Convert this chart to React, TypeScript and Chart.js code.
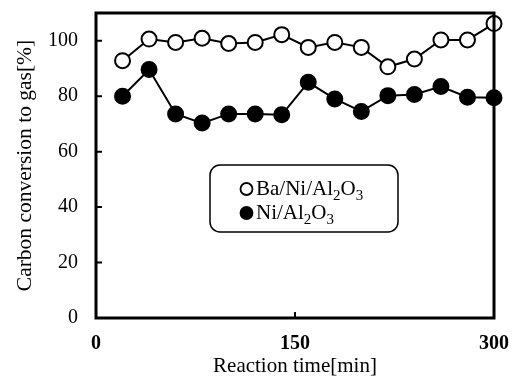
import React, { useEffect, useRef } from "react";
import { Chart, registerables } from "chart.js";

Chart.register(...registerables);

const times = [20, 40, 60, 80, 100, 120, 140, 160, 180, 200, 220, 240, 260, 280, 300];
const baNiValues = [92.8, 100.6, 99.4, 100.9, 99.0, 99.4, 102.2, 97.6, 99.4, 97.6, 90.6, 93.4, 100.3, 100.3, 106.2];
const niValues = [80.0, 89.6, 73.6, 70.3, 73.6, 73.6, 73.3, 85.0, 79.0, 74.5, 80.2, 80.6, 83.5, 79.6, 79.4];
const yTicks = [0, 20, 40, 60, 80, 100];
const xTicks = [0, 150, 300];
const seriesNames = ["Ba/Ni/Al2O3", "Ni/Al2O3"];

const SERIF = "'Liberation Serif', 'Times New Roman', serif";

function drawChem(ctx: CanvasRenderingContext2D, text: string, x: number, y: number, size: number) {
  let cx = x;
  for (const ch of text) {
    if (/[0-9]/.test(ch)) {
      ctx.font = `${Math.round(size * 0.72)}px ${SERIF}`;
      ctx.fillText(ch, cx, y + size * 0.32);
      cx += ctx.measureText(ch).width;
    } else {
      ctx.font = `${size}px ${SERIF}`;
      ctx.fillText(ch, cx, y);
      cx += ctx.measureText(ch).width;
    }
  }
}

const framePlugin = {
  id: "frame",
  afterDraw(chart: any) {
    const { ctx, chartArea } = chart;
    const { left, right, top, bottom } = chartArea;
    const xs = chart.scales.x;
    const ys = chart.scales.y;
    ctx.save();
    ctx.strokeStyle = "#000";
    ctx.lineWidth = 3;
    ctx.strokeRect(left, top, right - left, bottom - top);
    ctx.lineWidth = 2;
    ctx.beginPath();
    for (const v of yTicks) {
      const py = ys.getPixelForValue(v);
      ctx.moveTo(left, py);
      ctx.lineTo(left + 6, py);
    }
    for (const v of xTicks) {
      const px = xs.getPixelForValue(v);
      ctx.moveTo(px, bottom);
      ctx.lineTo(px, bottom - 6);
    }
    ctx.stroke();

    // legend box
    const bx = 210, by = 165, bw = 188, bh = 67, r = 10;
    ctx.lineWidth = 1.5;
    ctx.fillStyle = "#fff";
    ctx.beginPath();
    ctx.roundRect(bx, by, bw, bh, r);
    ctx.fill();
    ctx.stroke();

    ctx.lineWidth = 1.8;
    ctx.beginPath();
    ctx.arc(246.5, 189, 6, 0, Math.PI * 2);
    ctx.fillStyle = "#fff";
    ctx.fill();
    ctx.stroke();
    ctx.beginPath();
    ctx.arc(246.5, 213, 6, 0, Math.PI * 2);
    ctx.fillStyle = "#000";
    ctx.fill();
    ctx.stroke();

    ctx.fillStyle = "#000";
    ctx.textBaseline = "middle";
    ctx.textAlign = "left";
    drawChem(ctx, seriesNames[0], 256, 189, 21);
    drawChem(ctx, seriesNames[1], 256, 213, 21);
    ctx.restore();
  },
};

export default function App() {
  const ref = useRef<HTMLCanvasElement>(null);
  useEffect(() => {
    document.body.style.margin = "0";
    const canvas = ref.current!;
    const chart = new Chart(canvas, {
      type: "line",
      data: {
        datasets: [
          {
            label: seriesNames[0],
            data: times.map((t, i) => ({ x: t, y: baNiValues[i] })),
            borderColor: "#000",
            borderWidth: 2,
            backgroundColor: "#fff",
            pointBackgroundColor: "#fff",
            pointBorderColor: "#000",
            pointBorderWidth: 2,
            pointRadius: 7.5,
            tension: 0,
          },
          {
            label: seriesNames[1],
            data: times.map((t, i) => ({ x: t, y: niValues[i] })),
            borderColor: "#000",
            borderWidth: 2,
            backgroundColor: "#000",
            pointBackgroundColor: "#000",
            pointBorderColor: "#000",
            pointBorderWidth: 2,
            pointRadius: 7.5,
            tension: 0,
          },
        ],
      },
      options: {
        animation: false,
        responsive: false,
        maintainAspectRatio: false,
        clip: false as any,
        layout: { padding: { left: 0, top: 13, right: 18, bottom: 0 } },
        plugins: { legend: { display: false }, tooltip: { enabled: false } },
        scales: {
          x: {
            type: "linear",
            min: 0,
            max: 300,
            afterBuildTicks: (s: any) => { s.ticks = xTicks.map((v) => ({ value: v })); },
            afterFit: (s: any) => { s.height = 61; s.paddingLeft = 0; s.paddingRight = 0; },
            grid: { display: false, drawTicks: false },
            border: { display: false },
            ticks: { color: "#000", padding: 14, font: { family: SERIF, size: 20, weight: "bold" }, maxRotation: 0 },
            title: { display: true, text: "Reaction time[min]", color: "#000", font: { family: SERIF, size: 21 }, padding: { top: 0, bottom: 0 } },
          },
          y: {
            min: 0,
            max: 110,
            afterBuildTicks: (s: any) => { s.ticks = yTicks.map((v) => ({ value: v })); },
            afterFit: (s: any) => { s.width = 96; s.paddingTop = 0; s.paddingBottom = 0; },
            grid: { display: false, drawTicks: false },
            border: { display: false },
            ticks: { color: "#000", padding: 18, font: { family: SERIF, size: 20 } },
            title: { display: true, text: "Carbon conversion to gas[%]", color: "#000", font: { family: SERIF, size: 21.5 }, padding: { top: 12, bottom: 0 } },
          },
        },
      },
      plugins: [framePlugin],
    });
    return () => chart.destroy();
  }, []);
  return (
    <div style={{ width: 512, height: 379 }}>
      <canvas ref={ref} width={512} height={379} style={{ width: 512, height: 379 }} />
    </div>
  );
}
